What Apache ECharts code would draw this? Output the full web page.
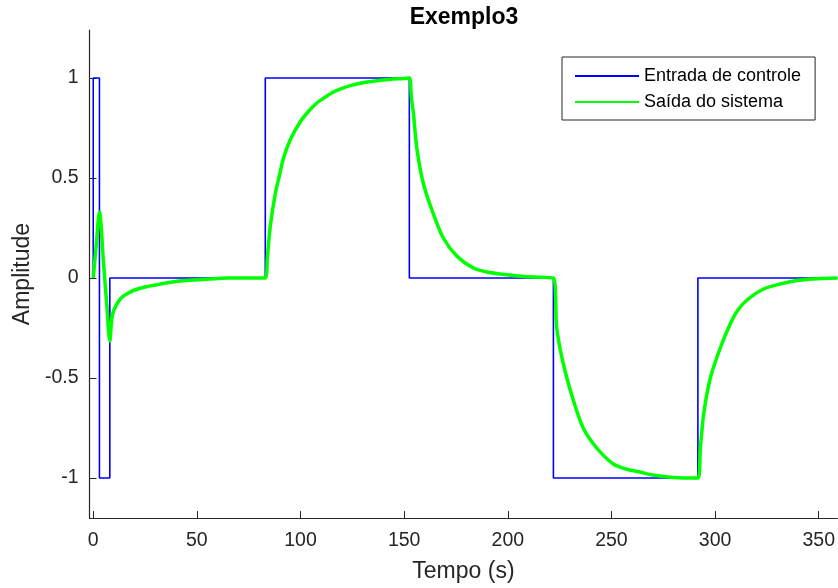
<!DOCTYPE html>
<html>
<head>
<meta charset="utf-8">
<script src="https://cdn.jsdelivr.net/npm/echarts@6/dist/echarts.min.js"></script>
<style>
  html, body { margin: 0; padding: 0; background: #fff; }
  #chart { width: 838px; height: 588px; }
</style>
</head>
<body>
<div id="chart"></div>
<script>
// entrada de controle (degraus)
const entradaT = [0, 0, 3, 3, 8, 8, 83, 83, 152.5, 152.5, 222, 222, 291.7, 291.7, 359]
const entradaY = [0, 1, 1, -1, -1, 0, 0, 1, 1, 0, 0, -1, -1, 0, 0]

// saida do sistema
const saidaT = [
  0, 1.5, 3, 5, 6.5, 8, 9, 10, 12, 14, 17, 20, 25, 30, 35, 40, 48, 56, 65, 83,
  84, 85.3, 87.8, 90, 91.8, 95, 99.8, 104, 107.9, 112, 115.9, 120, 124, 130, 140, 150, 152.5,
  153.5, 154.5, 156.1, 159.3, 164.1, 168.9, 175.4, 183.4, 190, 196.2, 205, 212.3, 222,
  223.6, 226.8, 231.6, 236.4, 242.9, 250.9, 257, 263.7, 270, 279.8, 291.7,
  292.9, 294.5, 297.7, 302.5, 307.3, 311, 315.4, 323.4, 331.4, 339.4, 347.3, 359
]
const saidaY = [
  0, 0.17, 0.33, 0.07, -0.13, -0.315, -0.2, -0.16, -0.12, -0.095, -0.075, -0.06, -0.045, -0.035, -0.025, -0.017, -0.01, -0.005, 0, 0,
  0.1, 0.25, 0.42, 0.52, 0.6, 0.69, 0.78, 0.835, 0.875, 0.905, 0.93, 0.948, 0.962, 0.976, 0.99, 0.998, 1.0,
  0.9, 0.82, 0.65, 0.47, 0.32, 0.2, 0.11, 0.05, 0.03, 0.02, 0.01, 0.005, 0,
  -0.25, -0.43, -0.61, -0.75, -0.85, -0.93, -0.955, -0.97, -0.985, -0.997, -1.0,
  -0.85, -0.68, -0.5, -0.35, -0.23, -0.16, -0.11, -0.055, -0.03, -0.013, -0.005, 0
]

const xTicks = [0, 50, 100, 150, 200, 250, 300, 350]
const yTicks = [-1, -0.5, 0, 0.5, 1]

const zip = (a, b) => a.map((v, i) => [v, b[i]])
const axisColor = '#262626'
const font = 'Liberation Sans, Arial, Helvetica, sans-serif'

const chart = echarts.init(document.getElementById('chart'), null, { renderer: 'canvas' })
const option = {
  animation: false,
  backgroundColor: '#fff',
  title: {
    text: 'Exemplo3',
    left: 464,
    textAlign: 'center',
    top: 6,
    padding: 0,
    textStyle: { fontFamily: font, fontSize: 23, fontWeight: 'bold', color: '#000' }
  },
  legend: {
    orient: 'vertical',
    left: 562,
    top: 57,
    padding: [9, 14, 8, 13],
    itemGap: 6,
    itemWidth: 64,
    itemHeight: 2,
    icon: 'rect',
    backgroundColor: '#fff',
    borderColor: axisColor,
    borderWidth: 1,
    borderRadius: 0,
    textStyle: { fontFamily: font, fontSize: 18, color: '#000', lineHeight: 20 },
    data: ['Entrada de controle', 'Saída do sistema']
  },
  grid: { left: 89.5, right: 0, top: 30, bottom: 70, containLabel: false },
  xAxis: {
    type: 'value',
    min: -1.8,
    max: 359,
    name: 'Tempo (s)',
    nameLocation: 'middle',
    nameGap: 42,
    nameTextStyle: { fontFamily: font, fontSize: 23, color: axisColor },
    axisLine: { onZero: false, lineStyle: { color: axisColor, width: 1.2 } },
    axisTick: { inside: true, length: 7, customValues: xTicks, lineStyle: { color: axisColor } },
    axisLabel: { customValues: xTicks, margin: 13, fontFamily: font, fontSize: 19.5, color: axisColor },
    splitLine: { show: false }
  },
  yAxis: {
    type: 'value',
    min: -1.2,
    max: 1.24,
    name: 'Amplitude',
    nameLocation: 'middle',
    nameGap: 53,
    nameTextStyle: { fontFamily: font, fontSize: 23, color: axisColor },
    axisLine: { show: true, onZero: false, lineStyle: { color: axisColor, width: 1.2 } },
    axisTick: { show: true, inside: true, length: 7, customValues: yTicks, lineStyle: { color: axisColor } },
    axisLabel: { customValues: yTicks, margin: 11, fontFamily: font, fontSize: 19.5, color: axisColor },
    splitLine: { show: false }
  },
  series: [
    {
      name: 'Entrada de controle',
      type: 'line',
      data: zip(entradaT, entradaY),
      showSymbol: false,
      color: '#0000ff',
      lineStyle: { width: 1.6, color: '#0000ff' },
      z: 2
    },
    {
      name: 'Saída do sistema',
      type: 'line',
      data: zip(saidaT, saidaY),
      showSymbol: false,
      smooth: 0.3,
      color: '#00ff00',
      lineStyle: { width: 3.5, color: '#00ff00' },
      z: 3
    }
  ]
}
chart.setOption(option)
</script>
</body>
</html>
